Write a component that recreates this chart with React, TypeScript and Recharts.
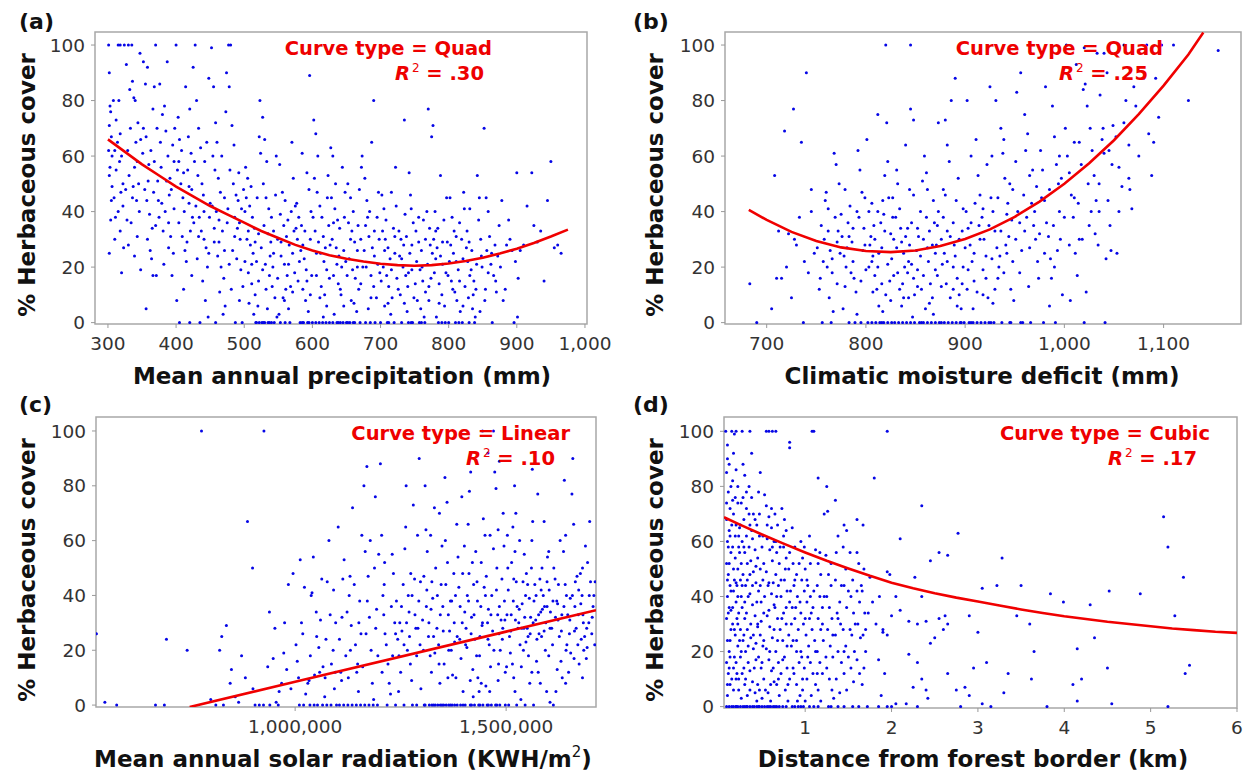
import { ScatterChart, Scatter, XAxis, YAxis, ReferenceArea } from "recharts";

type Pt = [number, number];

const pctTicks = [0, 20, 40, 60, 80, 100];
const precipTicks = [300, 400, 500, 600, 700, 800, 900, 1000];
const deficitTicks = [700, 800, 900, 1000, 1100];
// solar radiation kept in thousands of KWH/m2
const solarTicks = [1000, 1500];
const distTicks = [1, 2, 3, 4, 5, 6];

// (a) mean annual precipitation (mm) vs % herbaceous cover
const precipPts: Pt[] = [
  [301,100],[302,90],[303,78],[304,76],[302,71],[305,67],[301,62],[303,56],[302,53],[306,49],[304,37],[302,25],[308,80],[310,62],[312,55],[309,45],[315,100],[318,100],[316,80],[318,68],[320,60],[315,40],[318,33],[320,18],[322,50],[322,42],[324,100],[312,73],[310,30],[306,60],[314,65],[323,27],[319,47],
  [327,93],[330,100],[332,84],[333,70],[329,62],[335,100],[336,87],[338,81],[340,80],[331,53],[336,45],[328,37],[334,36],[339,24],[341,65],[343,58],[345,50],[347,97],[346,40],[343,31],[348,19],[348,66],[337,49],[342,44],[330,28],[344,72],
  [352,94],[355,86],[358,92],[352,70],[356,67],[360,57],[363,62],[354,48],[357,44],[361,39],[365,34],[358,30],[362,26],[356,5],[368,85],[370,100],[366,77],[372,70],[368,58],[373,51],[366,17],[371,17],[374,44],[370,35],[364,23],
  [376,86],[380,75],[383,78],[385,69],[388,60],[378,56],[386,51],[390,46],[393,48],[379,43],[384,40],[389,36],[392,31],[396,25],[382,21],[394,17],[398,70],[395,64],[387,94],[397,58],[391,52],[377,65],
  [400,100],[403,74],[405,66],[408,62],[402,55],[407,50],[410,45],[412,40],[404,36],[409,31],[413,26],[415,22],[401,8],[418,67],[420,77],[422,61],[417,55],[423,48],[419,43],[424,38],[421,33],[416,29],[423,17],[420,0],[405,0],[411,12],[414,85],[425,92],
  [428,100],[430,80],[433,70],[436,63],[427,58],[432,53],[438,50],[440,46],[429,42],[434,38],[437,33],[441,30],[444,27],[431,23],[446,20],[439,15],[443,8],[447,2],[448,88],[445,65],[442,58],[449,38],[435,0],[450,43],
  [452,99],[455,85],[458,72],[460,65],[454,60],[457,55],[462,52],[465,47],[453,42],[459,40],[463,37],[468,33],[456,29],[461,24],[466,20],[470,16],[464,11],[472,6],[469,3],[474,90],[473,76],[467,60],[471,45],[458,0],[475,36],
  [477,100],[480,100],[478,85],[482,71],[485,64],[479,55],[484,50],[488,46],[491,44],[476,41],[486,38],[490,34],[494,30],[483,26],[489,23],[495,19],[481,12],[493,8],[498,13],[487,0],[497,0],[492,54],[499,48],[496,41],
  [502,56],[505,52],[510,49],[503,45],[508,42],[512,38],[515,34],[504,30],[509,28],[513,25],[518,22],[506,18],[511,14],[516,10],[520,6],[523,80],[522,67],[524,61],[519,45],[521,32],[525,27],[517,0],[522,0],[514,3],[507,7],[501,22],
  [527,74],[530,66],[533,58],[528,50],[532,45],[536,41],[540,38],[529,35],[535,32],[539,29],[543,25],[531,21],[537,17],[541,13],[545,9],[534,5],[548,2],[526,0],[530,0],[535,0],[540,0],[544,0],[547,60],[546,46],[549,30],[542,20],
  [552,57],[556,47],[560,44],[553,39],[558,35],[562,31],[566,28],[554,24],[559,21],[563,17],[568,13],[557,9],[565,5],[570,65],[572,52],[569,40],[573,33],[571,25],[574,18],[567,0],[575,42],[564,37],[561,12],[551,3],
  [577,43],[580,38],[584,35],[578,30],[583,26],[588,23],[591,19],[579,15],[586,12],[590,8],[594,4],[596,89],[592,54],[595,48],[598,40],[587,0],[582,0],[593,0],[597,30],[599,17],[585,61],[589,33],
  [602,73],[605,68],[608,60],[603,52],[607,47],[611,42],[614,38],[604,33],[609,29],[612,25],[617,22],[606,17],[613,13],[618,10],[621,6],[616,2],[600,0],[610,0],[620,0],[623,53],[622,45],[624,35],[619,27],[625,16],
  [627,63],[630,60],[634,50],[628,45],[633,41],[637,37],[640,34],[629,30],[635,27],[639,24],[643,20],[631,17],[638,14],[642,10],[646,6],[632,3],[630,0],[636,0],[641,0],[645,0],[648,47],[644,56],[647,38],[649,22],
  [652,50],[656,45],[660,40],[653,36],[658,33],[662,29],[666,26],[654,23],[659,19],[663,16],[668,12],[657,8],[665,4],[650,0],[655,0],[660,0],[670,0],[672,56],[673,60],[669,48],[671,30],[674,20],[667,35],
  [677,52],[680,44],[684,40],[678,35],[683,31],[688,27],[691,24],[679,20],[686,17],[690,13],[694,9],[682,5],[690,80],[697,47],[695,38],[698,30],[692,0],[685,0],[699,18],[687,65],
  [702,46],[705,41],[708,37],[703,33],[707,30],[711,27],[714,23],[704,20],[709,17],[712,13],[717,9],[706,6],[715,3],[710,0],[720,0],[722,56],[723,42],[719,34],[721,25],[724,16],[716,47],
  [727,33],[730,30],[734,28],[728,24],[733,20],[737,17],[740,13],[729,10],[735,7],[739,4],[735,73],[742,54],[744,46],[745,41],[748,36],[738,31],[743,25],[746,19],[749,9],[731,0],[741,0],[747,0],
  [752,33],[756,29],[760,26],[753,22],[758,19],[762,15],[766,11],[754,8],[759,5],[764,2],[770,77],[775,67],[768,40],[772,34],[773,28],[769,21],[774,16],[765,0],[757,0],[771,8],[763,37],
  [777,71],[780,40],[784,34],[778,30],[783,27],[788,24],[791,21],[779,18],[786,14],[790,10],[794,6],[782,2],[785,0],[795,0],[788,53],[797,45],[793,37],[798,29],[799,17],[781,23],
  [802,45],[805,38],[808,33],[803,28],[807,25],[811,22],[814,19],[804,15],[809,11],[812,8],[817,4],[810,0],[820,0],[822,47],[823,41],[819,30],[821,23],[824,13],[816,36],
  [827,33],[830,29],[834,26],[828,22],[833,19],[837,15],[840,12],[829,9],[835,5],[839,2],[845,45],[842,53],[844,37],[848,24],[849,20],[838,0],[846,4],[831,41],
  [852,70],[855,45],[858,40],[860,31],[856,26],[862,21],[866,17],[854,12],[870,11],[864,0],[868,28],[872,24],[874,35],
  [878,44],[880,8],[885,28],[888,37],[893,26],[896,0],[900,54],[902,16],[901,2],[905,26],[915,42],[922,54],[930,29],[935,33],[945,44],[950,58],[955,27],[960,28],
  [305,44],[311,38],[317,58],[326,48],[339,56],[351,61],[359,51],[367,47],[375,38],[381,33],[389,27],[397,41],[404,58],[411,54],[419,49],[426,36],[433,31],[441,40],[448,25],[456,34],[463,29],[471,26],[478,21],[486,31],[493,36],
  [501,40],[506,33],[511,21],[516,29],[521,15],[527,19],[532,12],[538,24],[543,33],[549,16],[554,29],[559,8],[565,21],[571,11],[576,34],[581,22],[586,28],[592,15],[597,10],[601,38],[606,25],[611,9],[616,31],[621,19],[626,28],
  [631,36],[636,21],[641,12],[646,26],[651,17],[656,30],[661,7],[666,20],[671,14],[676,26],[681,38],[686,9],[691,33],[696,21],[701,15],[706,26],[711,7],[716,19],[721,31],[726,12],[731,23],[736,39],[741,18],[746,28],[751,14],
  [756,38],[761,20],[766,30],[771,13],[776,25],[781,33],[786,7],[791,29],[796,18],[801,22],[806,12],[811,31],[816,15],[821,6],[826,27],[831,17],[836,10],[841,21],[847,30],[853,8],[858,18],[863,25],[869,15],[876,20],[883,12],
  [890,30],[898,22],[910,28],[925,35],[940,15],[965,25],
  [518,0],[528,0],[537,0],[553,0],[560,0],[585,0],[595,0],[605,0],[615,0],[625,0],[638,0],[652,0],[662,0],[678,0],[700,0],[712,0],[745,0],[760,0],[790,0],[800,0],[815,0],[830,0],
];
const precipFit: Pt[] = [
  [300,66],[325,61.5],[350,57],[375,53],[400,49],[425,45.5],[450,42],[475,39],[500,36],[525,33],[550,30.5],[575,28],[600,26],[625,24.3],[650,23],[675,22],[700,21.2],[725,20.7],[750,20.5],[775,20.7],[800,21.3],[825,22.2],[850,23.4],[875,24.9],[900,26.6],[925,28.7],[950,31],[975,33.5],
];

// (b) climatic moisture deficit (mm)
const deficitPts: Pt[] = [
  [683,14],[690,0],[705,5],[708,53],[710,16],[712,33],[715,16],[718,69],[720,20],[722,32],[725,9],[727,77],[728,30],[730,28],[733,38],[735,65],[737,0],[738,22],[740,90],[742,18],[745,48],[745,40],[748,25],
  [751,27],[753,12],[755,35],[757,22],[760,47],[762,41],[758,30],[764,26],[766,18],[768,61],[770,57],[763,9],[767,4],[772,33],[774,25],[756,0],[765,0],[771,14],[769,38],[761,20],[759,44],[773,50],[754,16],
  [776,31],[778,24],[780,20],[782,36],[784,42],[786,29],[788,16],[790,11],[792,62],[794,55],[796,47],[798,34],[777,5],[783,0],[789,0],[795,0],[781,27],[785,18],[791,3],[793,38],[797,26],[799,45],[787,34],[779,48],[800,19],
  [801,66],[803,40],[805,31],[807,24],[809,17],[811,12],[813,6],[815,36],[817,44],[819,53],[821,72],[823,45],[804,28],[808,35],[812,20],[816,27],[820,10],[824,15],[802,0],[806,0],[810,0],[814,0],[818,0],[822,0],[825,32],[820,100],[812,75],[818,39],[806,22],
  [826,23],[828,30],[830,38],[832,18],[834,12],[836,6],[838,25],[840,64],[842,34],[844,28],[846,21],[848,16],[827,45],[831,55],[835,34],[839,20],[843,9],[847,2],[829,0],[833,0],[837,0],[841,0],[845,0],[849,0],[845,77],[848,73],[845,100],[836,29],[844,48],
  [851,26],[853,31],[855,40],[857,51],[859,60],[861,54],[863,22],[865,14],[867,9],[869,36],[871,28],[873,72],[852,19],[856,12],[860,5],[864,33],[868,44],[872,17],[854,0],[858,0],[862,0],[866,0],[870,0],[874,0],[862,48],[870,25],
  [876,30],[878,38],[880,46],[882,64],[884,58],[886,80],[888,36],[890,24],[892,16],[894,10],[896,5],[898,41],[877,21],[881,14],[885,31],[889,28],[893,52],[897,33],[879,0],[883,0],[887,0],[891,0],[895,0],[899,0],[890,88],[880,73],
  [901,40],[903,34],[905,28],[907,22],[909,15],[911,66],[913,53],[915,46],[917,38],[919,30],[921,24],[923,9],[902,80],[906,60],[910,43],[914,35],[918,19],[922,57],[904,0],[908,0],[912,0],[916,0],[920,0],[924,0],[925,85],
  [926,45],[928,40],[930,33],[932,27],[934,20],[936,70],[938,61],[940,52],[942,39],[944,31],[946,12],[948,48],[927,60],[931,80],[935,24],[939,66],[943,43],[947,37],[929,0],[937,0],[945,0],[933,16],[941,28],[949,8],
  [951,58],[953,40],[955,36],[957,26],[959,46],[961,62],[963,68],[965,53],[967,43],[969,35],[971,30],[973,22],[952,83],[956,90],[960,75],[964,13],[968,55],[972,49],[974,16],[958,0],[966,0],[962,38],
  [976,62],[978,55],[980,44],[982,36],[984,31],[986,23],[988,78],[990,67],[992,57],[994,50],[996,30],[998,10],[977,45],[981,85],[985,6],[989,35],[993,26],[997,52],[979,0],[991,0],[987,16],[995,40],
  [1001,70],[1003,60],[1005,54],[1007,46],[1009,38],[1011,25],[1013,17],[1015,65],[1017,57],[1019,84],[1021,86],[1023,78],[1002,100],[1006,8],[1010,65],[1014,43],[1018,30],[1022,11],[1020,0],[1024,50],[1012,93],[1020,99],
  [1026,70],[1028,62],[1030,53],[1032,44],[1034,28],[1036,82],[1038,66],[1040,61],[1042,23],[1044,44],[1046,35],[1048,57],[1027,40],[1031,32],[1035,50],[1039,70],[1043,90],[1047,26],[1041,0],[1049,71],[1033,97],[1040,97],
  [1052,67],[1055,56],[1058,49],[1060,72],[1062,80],[1065,64],[1068,41],[1070,85],[1072,78],[1075,60],[1080,88],[1085,68],[1088,53],[1090,65],[1095,74],[1092,88],[1060,100],[1083,100],[1066,48],[1053,25],[1098,100],
  [1125,80],[1155,98],[1110,100],
  [762,33],[766,23],[771,29],[775,39],[779,13],[783,31],[787,22],[791,40],[795,15],[799,28],[803,20],[806,43],[809,30],[813,25],[816,14],[819,33],[822,21],[825,8],[828,17],[831,27],[834,41],[837,14],[840,31],[843,22],[846,36],
  [849,10],[852,34],[855,24],[858,17],[861,38],[864,7],[867,28],[870,19],[873,40],[876,13],[879,25],[882,33],[885,9],[888,20],[891,44],[894,30],[897,14],[900,27],[903,19],[906,36],[909,25],[912,11],[915,30],[918,41],[921,16],
  [924,35],[927,23],[930,12],[933,45],[936,33],[939,18],[942,25],[945,50],[948,22],[951,30],[955,18],[960,33],[965,27],[970,40],[975,32],[980,25],[985,48],[990,20],[995,60],[1000,38],[1005,28],[1010,45],[1015,30],[1025,35],[1035,40],
  [1045,62],[1055,40],[1065,52],[807,11],[817,4],[827,38],[838,9],[848,46],[858,30],[868,3],[878,48],[888,12],[898,20],[908,5],[918,10],[928,7],[842,18],[852,13],[862,27],[872,35],[882,22],[892,6],[902,12],[812,40],[832,50],
  [822,58],[856,0],[876,0],[896,0],[906,0],[926,0],[946,0],[956,0],[816,0],[826,0],
];
const deficitFit: Pt[] = [
  [682,40.6],[700,37],[725,32.7],[750,29.4],[775,27.1],[800,25.8],[825,25.4],[850,26],[875,27.6],[900,30.1],[925,33.6],[950,38.1],[975,43.6],[1000,50],[1025,57.4],[1050,65.7],[1075,75.1],[1100,85.4],[1125,96.6],[1140,104.5],
];

// (c) mean annual solar radiation, thousands of KWH/m2
const solarPts: Pt[] = [
  [529,26],[549,1],[577,0],[669,0],[690,0],[695,24],[744,20],[778,100],[926,100],[887,67],[899,50],[837,29],[826,25],[821,20],[849,13],[846,8],[873,18],[882,10],[900,6],[939,34],[973,19],[984,44],[995,48],[800,2],[812,0],[830,0],[858,3],[866,1],[905,0],[915,0],[925,0],[940,0],[955,1],[960,0],[935,14],[948,17],[952,28],[962,5],[968,8],[975,30],[980,13],[990,6],
  [1002,22],[1005,16],[1008,10],[1012,53],[1015,30],[1018,26],[1022,43],[1025,4],[1030,8],[1033,9],[1036,18],[1040,41],[1043,54],[1046,11],[1050,34],[1053,0],[1056,21],[1060,31],[1063,46],[1066,14],[1070,3],[1073,24],[1076,45],[1080,60],[1083,33],[1086,15],[1090,20],[1093,6],[1096,30],[1098,0],[1010,0],[1020,0],[1035,0],[1045,0],[1065,0],[1075,0],[1085,0],[1095,12],[1038,40],[1058,12],
  [1102,65],[1105,24],[1108,12],[1110,9],[1113,46],[1116,53],[1120,18],[1123,34],[1126,10],[1130,47],[1133,29],[1136,72],[1140,44],[1143,22],[1146,12],[1150,5],[1153,38],[1156,26],[1160,14],[1163,80],[1166,56],[1170,87],[1173,47],[1176,32],[1180,20],[1183,8],[1186,2],[1190,76],[1193,35],[1196,18],[1105,0],[1115,0],[1125,0],[1135,0],[1145,0],[1155,0],[1165,0],[1175,0],[1185,0],[1195,0],[1128,40],[1148,15],[1168,26],[1188,50],[1158,62],[1178,60],[1198,55],
  [1202,88],[1205,62],[1208,40],[1210,33],[1213,26],[1216,22],[1220,15],[1223,8],[1226,4],[1230,55],[1233,48],[1236,30],[1240,38],[1243,24],[1246,18],[1250,12],[1253,27],[1256,44],[1260,57],[1263,80],[1266,20],[1270,34],[1273,15],[1276,9],[1280,73],[1283,46],[1286,28],[1290,62],[1293,38],[1296,22],[1298,6],[1212,52],[1228,36],[1248,30],[1268,40],[1288,18],[1218,0],[1238,0],[1258,0],[1278,0],[1288,0],[1262,65],[1238,26],[1274,48],[1294,90],[1206,12],[1245,5],
  [1302,31],[1305,47],[1308,80],[1310,64],[1313,56],[1316,25],[1320,18],[1323,12],[1326,39],[1330,72],[1333,50],[1336,28],[1340,22],[1343,8],[1346,44],[1350,36],[1353,15],[1356,60],[1360,74],[1363,33],[1366,27],[1370,20],[1373,11],[1376,48],[1380,40],[1383,66],[1386,54],[1390,24],[1393,17],[1396,30],[1398,5],[1312,42],[1328,25],[1348,58],[1368,38],[1388,43],[1306,0],[1318,0],[1324,0],[1332,0],[1338,0],[1344,0],[1352,0],[1358,0],[1364,0],[1372,0],[1378,0],[1384,0],[1392,0],[1355,83],[1342,70],[1378,23],[1395,76],[1322,35],[1362,10],
  [1402,34],[1405,28],[1408,40],[1410,66],[1413,78],[1416,85],[1420,52],[1423,44],[1426,24],[1430,18],[1433,10],[1436,5],[1440,36],[1443,29],[1446,68],[1450,62],[1453,47],[1456,30],[1460,22],[1463,14],[1466,40],[1470,57],[1473,85],[1476,79],[1480,33],[1483,26],[1486,20],[1490,46],[1493,70],[1496,38],[1498,12],[1412,48],[1418,32],[1428,56],[1438,25],[1448,43],[1458,35],[1468,27],[1478,50],[1488,31],[1495,58],[1403,0],[1415,0],[1425,0],[1435,0],[1445,0],[1455,0],[1465,0],[1475,0],[1485,0],[1422,3],[1452,7],[1482,15],[1407,21],[1432,38],[1462,62],[1492,28],[1444,100],[1470,100],[1484,89],[1457,92],[1415,9],
  [1502,33],[1505,42],[1508,25],[1510,19],[1513,52],[1516,65],[1520,80],[1523,70],[1526,36],[1530,30],[1533,22],[1536,14],[1540,45],[1543,55],[1546,40],[1550,28],[1553,18],[1556,8],[1560,50],[1563,67],[1566,38],[1570,31],[1573,24],[1576,12],[1580,46],[1583,42],[1586,35],[1590,27],[1593,20],[1596,5],[1598,54],[1512,33],[1518,46],[1528,28],[1538,37],[1548,48],[1558,32],[1568,44],[1578,26],[1588,40],[1506,0],[1525,0],[1545,0],[1565,0],[1518,10],[1535,2],[1552,25],[1572,16],[1582,34],[1594,30],[1503,62],[1532,60],[1562,86],[1575,77],[1590,67],[1542,28],[1515,15],[1585,50],[1555,39],[1597,36],[1547,23],[1522,31],
  [1602,42],[1605,34],[1608,28],[1610,22],[1613,50],[1616,46],[1620,38],[1623,31],[1626,25],[1630,16],[1633,10],[1636,56],[1640,44],[1643,40],[1646,33],[1650,26],[1653,19],[1656,77],[1660,66],[1663,36],[1666,28],[1670,22],[1673,15],[1676,48],[1680,40],[1683,30],[1686,25],[1690,17],[1693,52],[1696,30],[1700,45],[1703,26],[1706,36],[1710,22],[1604,1],[1618,5],[1628,60],[1638,82],[1648,12],[1658,90],[1668,47],[1678,24],[1688,58],[1698,67],[1612,0],[1622,37],[1632,33],[1642,20],[1652,39],[1662,27],[1672,42],[1682,33],[1692,21],[1708,40],
  [1252,36],[1258,22],[1264,30],[1271,25],[1277,40],[1284,33],[1291,28],[1297,45],[1304,20],[1311,36],[1317,30],[1324,45],[1331,19],[1337,40],[1344,33],[1351,27],[1357,44],[1364,20],[1371,38],[1377,30],[1384,25],[1391,36],[1397,48],[1404,22],[1411,38],
  [1417,26],[1424,33],[1431,45],[1437,18],[1444,30],[1451,40],[1457,24],[1464,33],[1471,20],[1477,42],[1484,36],[1491,24],[1497,31],[1504,50],[1511,27],[1517,38],[1524,45],[1531,35],[1537,28],[1544,32],[1551,44],[1557,26],[1564,30],[1571,40],[1577,33],
  [1584,25],[1591,36],[1597,45],[1604,28],[1611,38],[1617,32],[1624,44],[1631,27],[1637,36],[1644,22],[1651,31],[1657,40],[1664,45],[1671,33],[1677,37],[1684,20],[1691,28],[1697,40],[1704,32],[1711,45],
  [1421,13],[1441,8],[1461,5],[1481,9],[1501,14],[1521,5],[1541,20],[1561,12],[1581,8],[1601,18],[1621,13],[1641,8],[1661,17],[1681,10],[1321,62],[1361,52],[1401,58],[1441,52],[1481,64],[1521,56],[1561,60],[1601,56],[1641,62],[1681,50],
  [1341,15],[1381,10],[1231,18],[1211,44],[1191,28],[1171,38],[1151,30],[1131,20],[1111,32],[1091,42],[1071,10],[1051,25],[1418,0],[1438,0],[1458,0],[1478,0],[1498,0],[1398,0],[1368,0],[1348,0],[1328,0],[1308,0],
];
const solarFit: Pt[] = [
  [750,-0.7],[1000,8.5],[1500,26.8],[1713,34.6],
];

// (d) distance from forest border (km)
const distPts: Pt[] = [
  [0.08,100],[0.1,95],[0.1,90],[0.12,88],[0.09,85],[0.11,78],[0.13,72],[0.09,68],[0.12,64],[0.1,60],[0.14,56],[0.09,52],[0.11,48],[0.13,44],[0.1,40],[0.12,36],[0.09,32],[0.14,28],[0.1,24],[0.12,20],[0.09,16],[0.11,12],[0.13,8],[0.1,4],
  [0.09,0],[0.12,0],[0.15,0],[0.17,0],[0.2,0],[0.22,0],[0.25,0],[0.28,0],[0.3,0],[0.33,0],[0.36,0],[0.39,0],
  [0.15,100],[0.18,99],[0.2,100],[0.17,92],[0.2,86],[0.16,82],[0.19,76],[0.22,80],[0.17,70],[0.2,66],[0.23,62],[0.16,58],[0.19,54],[0.22,50],[0.25,46],[0.17,42],[0.2,38],[0.23,34],[0.16,30],[0.19,26],[0.22,22],[0.25,18],[0.17,14],[0.2,10],[0.23,6],[0.26,3],
  [0.27,100],[0.28,88],[0.3,84],[0.26,74],[0.29,68],[0.32,72],[0.27,60],[0.3,56],[0.33,52],[0.28,48],[0.31,44],[0.34,40],[0.27,36],[0.3,32],[0.33,28],[0.28,24],[0.31,20],[0.34,16],[0.27,12],[0.3,8],[0.33,4],
  [0.24,65],[0.21,44],[0.14,35],[0.25,28],[0.18,18],[0.13,24],[0.21,12],[0.12,52],[0.15,66],[0.24,56],[0.18,46],[0.26,40],[0.22,30],[0.15,10],[0.29,14],[0.32,62],[0.35,58],
  [0.36,100],[0.38,92],[0.35,80],[0.38,76],[0.4,70],[0.36,66],[0.39,61],[0.42,57],[0.37,53],[0.4,49],[0.43,45],[0.36,41],[0.39,37],[0.42,33],[0.45,29],[0.37,25],[0.4,21],[0.43,17],[0.36,13],[0.39,9],[0.42,5],[0.44,2],[0.41,0],[0.44,0],[0.47,0],[0.5,0],[0.53,0],
  [0.46,78],[0.44,66],[0.47,62],[0.5,58],[0.45,54],[0.48,50],[0.51,46],[0.46,42],[0.49,38],[0.52,34],[0.45,30],[0.48,26],[0.51,22],[0.46,18],[0.49,14],[0.52,10],[0.47,6],[0.5,3],[0.48,85],[0.53,77],
  [0.55,100],[0.58,100],[0.62,100],[0.66,100],[0.55,73],[0.58,69],[0.61,65],[0.56,61],[0.59,57],[0.62,53],[0.55,49],[0.58,45],[0.61,41],[0.64,37],[0.56,33],[0.59,29],[0.62,25],[0.55,21],[0.58,17],[0.61,13],[0.64,9],[0.57,5],[0.6,2],[0.56,0],[0.6,0],[0.63,0],[0.67,0],[0.7,0],[0.74,0],
  [0.65,70],[0.68,66],[0.64,60],[0.67,56],[0.7,52],[0.66,48],[0.69,44],[0.72,40],[0.65,36],[0.68,32],[0.71,28],[0.74,24],[0.66,20],[0.69,16],[0.72,12],[0.67,8],[0.7,4],
  [0.73,72],[0.76,68],[0.78,64],[0.75,58],[0.78,54],[0.81,50],[0.76,46],[0.79,42],[0.82,38],[0.75,34],[0.78,30],[0.81,26],[0.84,22],[0.76,18],[0.79,14],[0.82,10],[0.77,6],[0.8,2],[0.82,96],[0.82,94],
  [0.85,65],[0.88,58],[0.86,52],[0.9,48],[0.87,44],[0.91,40],[0.85,36],[0.88,32],[0.92,28],[0.86,24],[0.9,20],[0.93,16],[0.87,12],[0.9,8],[0.94,4],[0.85,0],[0.92,0],[0.98,0],
  [0.95,60],[0.97,54],[1.0,50],[0.96,46],[0.99,42],[1.02,38],[0.95,34],[0.98,30],[1.01,26],[1.04,22],[0.96,18],[0.99,14],[1.02,10],[0.97,6],[1.0,2],
  [1.05,62],[1.08,100],[1.1,100],[1.03,44],[1.06,40],[1.09,36],[1.05,32],[1.08,28],[1.11,24],[1.06,16],[1.09,12],[1.12,8],[1.07,4],[1.05,0],[1.1,0],
  [1.15,83],[1.12,57],[1.15,52],[1.18,48],[1.14,44],[1.17,40],[1.2,36],[1.15,32],[1.18,28],[1.21,24],[1.14,20],[1.17,16],[1.2,12],[1.15,6],[1.18,2],
  [1.25,80],[1.22,70],[1.26,71],[1.24,55],[1.27,48],[1.3,44],[1.25,40],[1.28,36],[1.31,32],[1.26,28],[1.29,22],[1.32,18],[1.25,14],[1.28,10],[1.31,6],[1.27,0],[1.33,3],
  [1.35,75],[1.38,62],[1.36,56],[1.4,38],[1.37,34],[1.41,30],[1.35,26],[1.38,20],[1.42,16],[1.36,10],[1.4,5],[1.38,0],
  [1.45,66],[1.48,64],[1.44,58],[1.47,50],[1.45,44],[1.48,36],[1.44,28],[1.47,22],[1.5,18],[1.45,12],[1.48,6],
  [1.52,56],[1.55,46],[1.53,40],[1.56,34],[1.54,26],[1.57,20],[1.53,14],[1.56,9],[1.55,0],
  [1.6,68],[1.62,52],[1.6,42],[1.63,38],[1.61,30],[1.64,25],[1.6,17],[1.63,12],[1.62,0],
  [1.67,66],[1.68,50],[1.66,42],[1.69,34],[1.67,26],[1.7,20],[1.68,14],[1.66,8],[1.72,0],
  [1.73,34],[1.75,47],[1.8,83],[1.78,38],[1.82,30],[1.86,40],[1.9,28],[1.88,4],[1.85,0],
  [1.98,48],[1.95,49],[2.0,33],[1.95,26],[1.9,27],[1.85,17],[1.92,12],[2.0,0],[1.95,0],[2.05,1],[2.05,40],[2.1,35],[1.95,100],
  [2.1,61],[2.2,31],[2.3,30],[2.2,19],[2.25,7],[2.3,16],[2.35,10],[2.4,6],[2.42,3],[2.3,0],[2.17,1],[2.27,47],[2.35,40],[2.4,31],[2.45,23],[2.5,25],
  [2.35,73],[2.45,53],[2.55,56],[2.65,55],[2.55,32],[2.6,28],[2.65,30],[2.62,33],[2.65,12],[2.75,6],[2.8,0],[2.77,63],[2.85,7],[2.9,4],[2.9,33],[2.95,14],
  [3.0,27],[3.05,43],[3.05,1],[3.1,16],[3.15,0],[3.22,44],[3.28,54],[3.3,5],[3.35,12],[3.45,33],[3.5,44],[3.6,30],[3.62,10],[3.65,20],
  [3.8,0],[3.84,41],[3.99,38],[4.1,8],[4.15,2],[4.15,21],[4.2,10],[4.3,37],[4.35,25],[4.5,14],[4.52,42],[4.55,1],[4.88,41],
  [5.15,69],[5.2,58],[5.2,0],[5.28,33],[5.38,47],[5.4,12],[5.45,15],
  [0.09,74],[0.1,46],[0.11,34],[0.12,14],[0.1,8],[0.11,58],[0.13,62],[0.14,42],[0.13,18],[0.14,80],[0.16,75],[0.17,50],[0.16,36],[0.18,28],[0.17,6],[0.19,62],[0.2,45],[0.21,32],[0.2,16],[0.22,74],[0.23,58],[0.22,40],[0.24,24],[0.23,10],
  [0.25,66],[0.26,52],[0.27,44],[0.26,20],[0.28,76],[0.29,58],[0.3,38],[0.29,26],[0.31,10],[0.32,78],[0.33,46],[0.32,34],[0.34,22],[0.35,70],[0.36,48],[0.37,30],[0.36,6],[0.38,64],[0.39,44],[0.4,26],[0.41,14],[0.42,68],[0.43,51],
  [0.44,38],[0.43,23],[0.45,8],[0.47,70],[0.48,44],[0.49,31],[0.5,16],[0.51,62],[0.52,52],[0.53,40],[0.52,24],[0.54,6],[0.56,66],[0.57,44],[0.58,35],[0.59,20],[0.6,8],[0.61,72],[0.62,58],[0.63,45],[0.64,28],[0.63,14],
  [0.66,60],[0.67,40],[0.68,24],[0.69,10],[0.71,58],[0.72,46],[0.73,32],[0.74,17],[0.75,62],[0.77,50],[0.78,36],[0.79,22],[0.8,8],[0.82,56],[0.83,42],[0.84,30],[0.86,14],[0.88,46],[0.89,36],[0.9,24],[0.91,2],
  [0.93,52],[0.94,38],[0.95,20],[0.97,10],[0.99,58],[1.0,32],[1.02,46],[1.03,18],[1.06,52],[1.07,34],[1.1,42],[1.12,20],[1.14,12],[1.17,56],[1.2,30],[1.22,40],[1.24,18],[1.3,52],[1.32,26],[1.35,46],[1.38,32],[1.42,44],
  [1.45,20],[1.5,42],[1.52,28],[1.58,30],[1.6,56],[1.65,44],[1.7,28],
  [0.2,0],[0.32,0],[0.46,0],[0.58,0],[0.65,0],[0.78,0],[0.88,0],[0.95,0],[1.15,0],[1.3,0],[1.45,0],
];
const distFit: Pt[] = [
  [0.06,68.8],[0.25,66],[0.5,62.5],[0.75,59.2],[1,56],[1.25,53],[1.5,50.2],[1.75,47.5],[2,45],[2.25,43],[2.5,41.2],[2.75,39.6],[3,38.2],[3.25,36.7],[3.5,35.3],[3.75,34],[4,32.8],[4.25,31.8],[4.5,30.8],[4.75,30],[5,29.2],[5.25,28.4],[5.5,27.8],[5.75,27.2],[6,26.8],
];

const font = "DejaVu Sans";
const red = "#ee0000";

function commas(v: number) {
  return String(v).replace(/\B(?=(\d{3})+(?!\d))/g, ",");
}

const dot = (props: any) => (
  <circle cx={props.cx} cy={props.cy} r={1.5} fill="#0505e6" />
);
const noDot = () => <g />;

interface PanelProps {
  left: number;
  top: number;
  width: number;
  height: number;
  margin: { top: number; right: number; bottom: number; left: number };
  xDomain: [number, number];
  yDomain: [number, number];
  xTicks: number[];
  xFormat?: (v: number) => string;
  points: Pt[];
  fit: Pt[];
}

function Panel(p: PanelProps) {
  const pts = p.points.map(([x, y]) => ({ x, y }));
  const fit = p.fit.map(([x, y]) => ({ x, y }));
  const tick = { fill: "#333", fontSize: 18.5, fontFamily: font };
  return (
    <div style={{ position: "absolute", left: p.left, top: p.top }}>
      <ScatterChart width={p.width} height={p.height} margin={p.margin}>
        <XAxis
          type="number"
          dataKey="x"
          domain={p.xDomain}
          ticks={p.xTicks}
          interval={0}
          allowDataOverflow
          tickFormatter={p.xFormat ?? commas}
          axisLine={false}
          tickLine={{ stroke: "#999" }}
          tickSize={4}
          tickMargin={9}
          height={30}
          tick={tick}
        />
        <YAxis
          type="number"
          dataKey="y"
          domain={p.yDomain}
          ticks={pctTicks}
          interval={0}
          allowDataOverflow
          axisLine={false}
          tickLine={{ stroke: "#999" }}
          tickSize={4}
          tickMargin={6}
          width={50}
          tick={tick}
        />
        <Scatter data={pts} shape={dot} isAnimationActive={false} />
        <Scatter
          data={fit}
          shape={noDot}
          line={{ stroke: "#f00000", strokeWidth: 2.6 }}
          isAnimationActive={false}
        />
        <ReferenceArea
          x1={p.xDomain[0]}
          x2={p.xDomain[1]}
          y1={p.yDomain[0]}
          y2={p.yDomain[1]}
          fill="none"
          stroke="#a8a8a8"
          strokeWidth={1.5}
          ifOverflow="visible"
        />
      </ScatterChart>
    </div>
  );
}

function FitLabel({ x1, y1, x2, kind, r2 }: { x1: number; y1: number; x2: number; kind: string; r2: string }) {
  return (
    <g fill={red} fontFamily={font} fontWeight="bold" fontSize={19.5}>
      <text x={x1} y={y1} textAnchor="end">Curve type = {kind}</text>
      <text x={x2} y={y1 + 25} textAnchor="end">
        <tspan fontStyle="italic">R</tspan>
        <tspan fontSize={12} fontWeight="normal" dx={2} dy={-8}>2</tspan>
        <tspan dy={8}>{" = " + r2}</tspan>
      </text>
    </g>
  );
}

export default function App() {
  const yTitle = "% Herbaceous cover";
  return (
    <div style={{ position: "absolute", left: 0, top: 0, width: 1244, height: 773, background: "#fff", overflow: "hidden" }}>
      <Panel left={0} top={0} width={620} height={390} margin={{ top: 32, right: 33, bottom: 36, left: 45 }}
        xDomain={[281, 1003]} yDomain={[-0.5, 104.7]} xTicks={precipTicks} points={precipPts} fit={precipFit} />
      <Panel left={620} top={0} width={624} height={390} margin={{ top: 32, right: 3, bottom: 36, left: 55 }}
        xDomain={[658, 1178]} yDomain={[-0.5, 104.7]} xTicks={deficitTicks} points={deficitPts} fit={deficitFit} />
      <Panel left={0} top={390} width={620} height={383} margin={{ top: 27, right: 24, bottom: 36, left: 46 }}
        xDomain={[528, 1713]} yDomain={[-0.7, 105.1]} xTicks={solarTicks} xFormat={(v) => commas(v * 1000)}
        points={solarPts} fit={solarFit} />
      <Panel left={620} top={390} width={624} height={383} margin={{ top: 27, right: 7, bottom: 35, left: 54 }}
        xDomain={[0.06, 6]} yDomain={[-0.5, 105.2]} xTicks={distTicks} xFormat={(v) => String(v)}
        points={distPts} fit={distFit} />

      <svg width={1244} height={773} style={{ position: "absolute", left: 0, top: 0, pointerEvents: "none" }}>
        <g fontFamily={font} fontWeight="bold" fill="#111">
          <text x={19} y={29} fontSize={22}>(a)</text>
          <text x={633} y={29} fontSize={22}>(b)</text>
          <text x={19} y={412} fontSize={22}>(c)</text>
          <text x={633} y={412} fontSize={22}>(d)</text>

          <text transform="translate(27,185) rotate(-90)" textAnchor="middle" dominantBaseline="central" fontSize={23}>{yTitle}</text>
          <text transform="translate(655,185) rotate(-90)" textAnchor="middle" dominantBaseline="central" fontSize={23}>{yTitle}</text>
          <text transform="translate(27,570) rotate(-90)" textAnchor="middle" dominantBaseline="central" fontSize={23}>{yTitle}</text>
          <text transform="translate(655,570) rotate(-90)" textAnchor="middle" dominantBaseline="central" fontSize={23}>{yTitle}</text>

          <text x={342} y={384} textAnchor="middle" fontSize={23}>Mean annual precipitation (mm)</text>
          <text x={982} y={384} textAnchor="middle" fontSize={23}>Climatic moisture deficit (mm)</text>
          <text x={94} y={767} fontSize={23}>
            Mean annual solar radiation (KWH/m
            <tspan fontSize={15} fontWeight="normal" dy={-10}>2</tspan>
            <tspan dy={10}>)</tspan>
          </text>
          <text x={973} y={767} textAnchor="middle" fontSize={23}>Distance from forest border (km)</text>
        </g>
        <FitLabel x1={492} y1={55} x2={484} kind="Quad" r2=".30" />
        <FitLabel x1={1163} y1={55} x2={1148} kind="Quad" r2=".25" />
        <FitLabel x1={570} y1={440} x2={555} kind="Linear" r2=".10" />
        <FitLabel x1={1210} y1={440} x2={1197} kind="Cubic" r2=".17" />
      </svg>
    </div>
  );
}
